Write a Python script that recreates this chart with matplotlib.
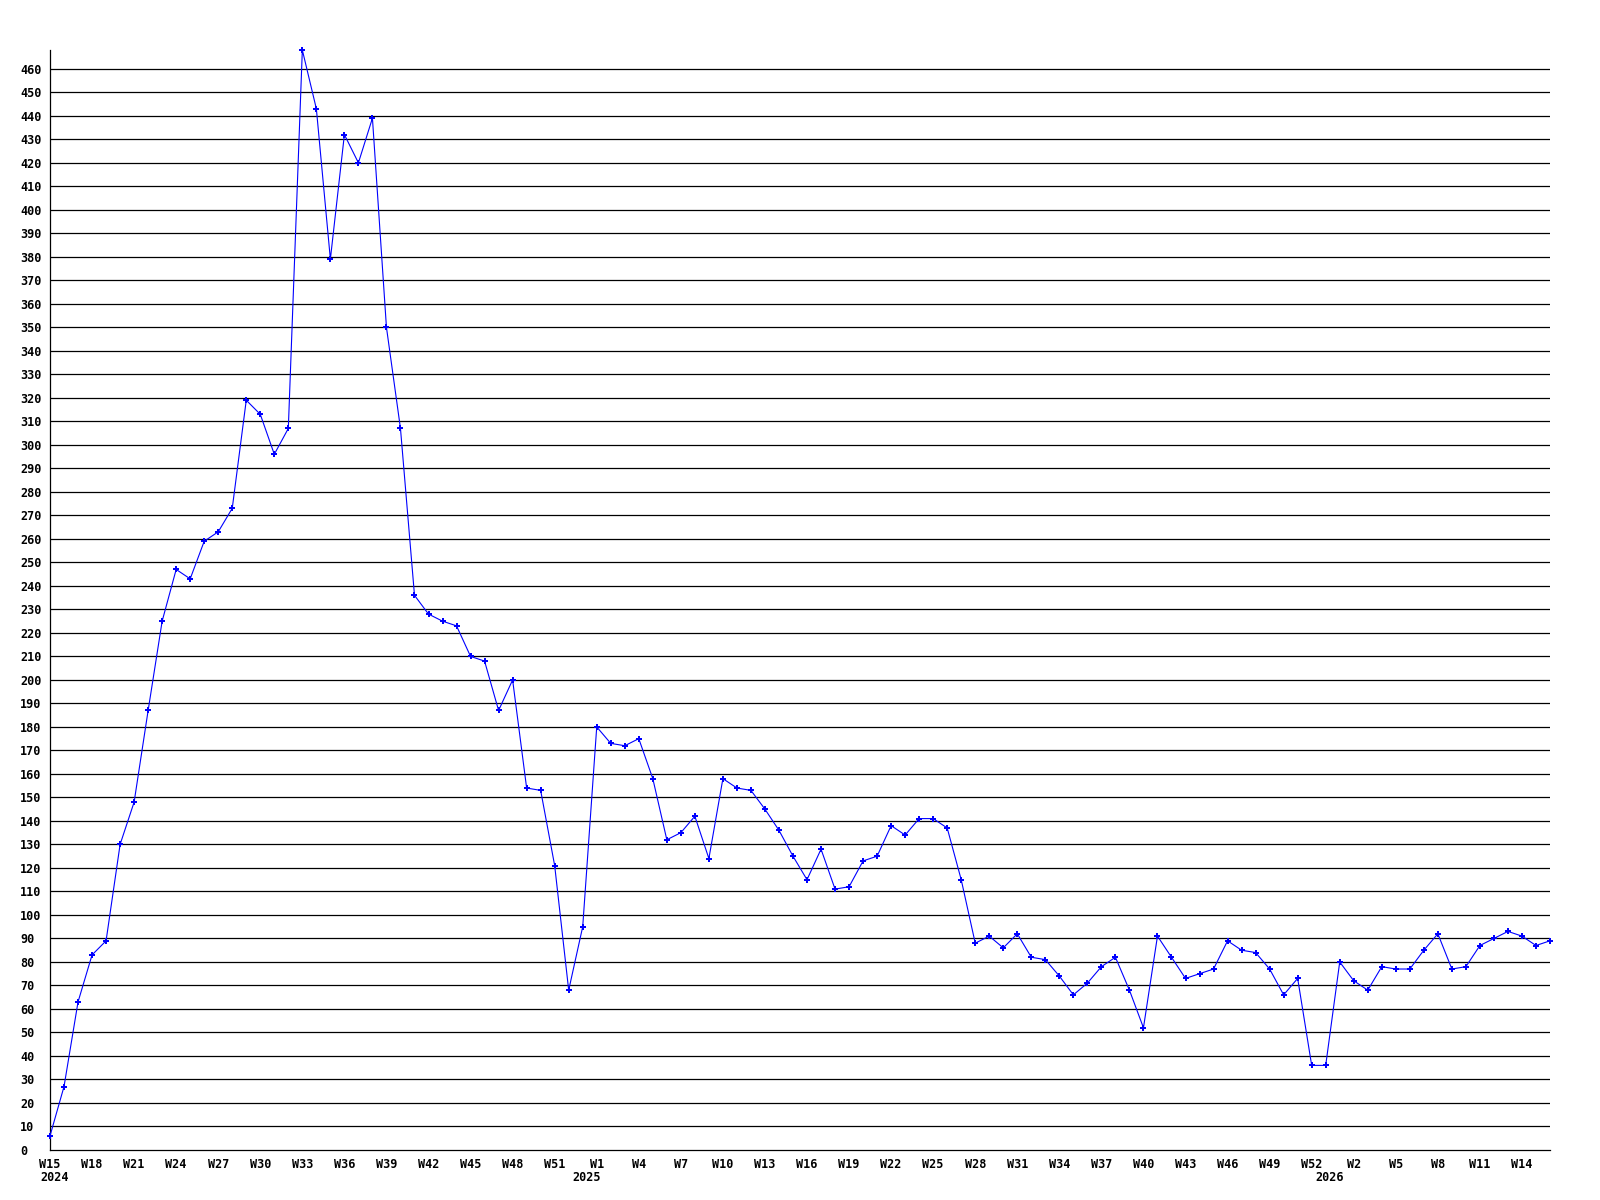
import matplotlib
matplotlib.use("Agg")
import matplotlib.pyplot as plt

# weekly values, W15 2024 .. W16 2026 (one point per week)
values = [
    6, 27, 63, 83, 89, 130, 148, 187, 225, 247, 243, 259, 263, 273,
    319, 313, 296, 307, 468, 443, 379, 432, 420, 439, 350, 307, 236,
    228, 225, 223, 210, 208, 187, 200, 154, 153, 121, 68, 95,
    180, 173, 172, 175, 158, 132, 135, 142, 124, 158, 154, 153, 145,
    136, 125, 115, 128, 111, 112, 123, 125, 138, 134, 141, 141, 137,
    115, 88, 91, 86, 92, 82, 81, 74, 66, 71, 78, 82, 68, 52, 91, 82,
    73, 75, 77, 89, 85, 84, 77, 66, 73, 36, 36,
    80, 72, 68, 78, 77, 77, 85, 92, 77, 78, 87, 90, 93, 91, 87, 89,
]

week_labels = [
    "W15", "W18", "W21", "W24", "W27", "W30", "W33", "W36", "W39", "W42",
    "W45", "W48", "W51", "W1", "W4", "W7", "W10", "W13", "W16", "W19",
    "W22", "W25", "W28", "W31", "W34", "W37", "W40", "W43", "W46", "W49",
    "W52", "W2", "W5", "W8", "W11", "W14",
]
week_positions = list(range(0, 3 * len(week_labels), 3))

year_labels = ["2024", "2025", "2026"]
year_positions = [0, 38, 91]

y_ticks = list(range(0, 461, 10))

FONT = "DejaVu Sans Mono"

fig = plt.figure(figsize=(16, 12), dpi=100)
ax = fig.add_axes([50 / 1600, 50 / 1200, 1500 / 1600, 1100 / 1200])

x = list(range(len(values)))
ax.plot(x, values, color="#0000ff", linewidth=0.8, marker="P",
        markersize=4, markeredgewidth=0, zorder=3, clip_on=False)

ax.set_xlim(0, len(values) - 1)
ax.set_ylim(0, max(values))

# horizontal grid
for v in y_ticks[1:]:
    ax.axhline(v, color="black", linewidth=0.9, zorder=1)

for side in ["top", "right"]:
    ax.spines[side].set_visible(False)
ax.spines["left"].set_linewidth(0.9)
ax.spines["bottom"].set_linewidth(0.9)

ax.set_yticks(y_ticks)
ax.set_yticklabels([str(v) for v in y_ticks], fontsize=8.5,
                   fontweight="bold", family=FONT, ha="left")
ax.tick_params(axis="y", length=0, pad=21.6)

ax.set_xticks(week_positions)
ax.set_xticklabels(week_labels, fontsize=8.5, fontweight="bold", family=FONT)
ax.tick_params(axis="x", length=0, pad=5.5)

for lab, pos in zip(year_labels, year_positions):
    ax.annotate(lab, xy=(pos, 0), xycoords=("data", "axes fraction"),
                xytext=(-7.2, -19.5), textcoords="offset points",
                ha="left", va="center", fontsize=8.5, fontweight="bold",
                family=FONT, annotation_clip=False)

fig.savefig("out.png", dpi=100, facecolor="white")
